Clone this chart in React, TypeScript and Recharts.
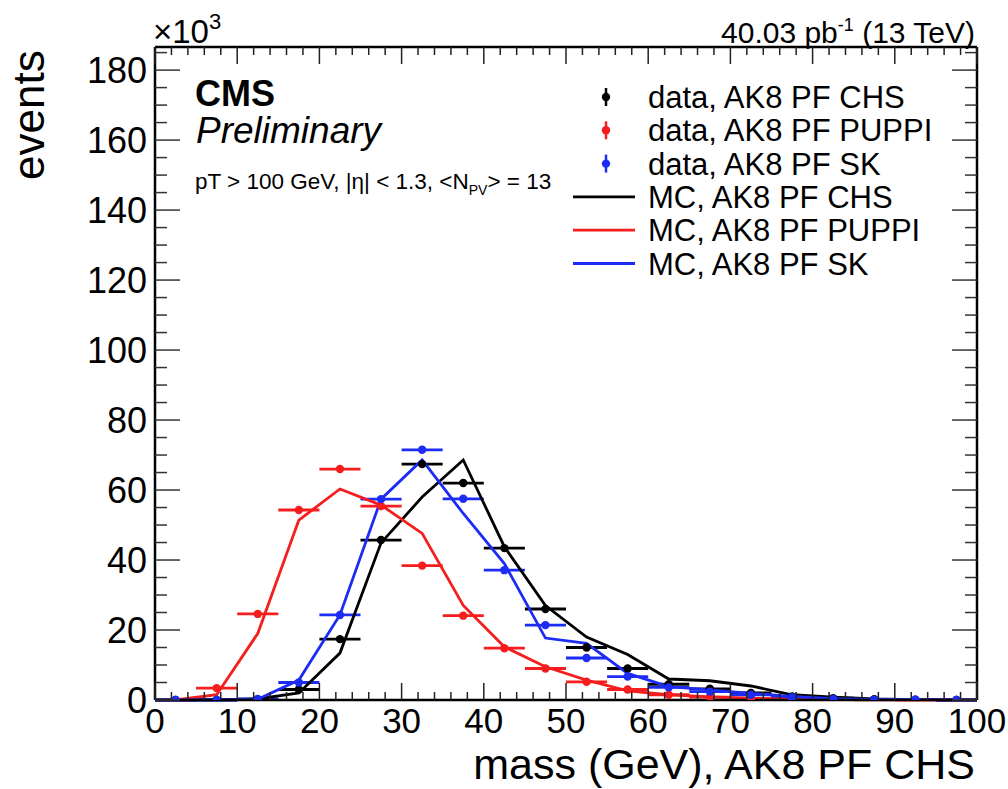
import React from "react";
import { ComposedChart, Line, Scatter, ErrorBar, XAxis, YAxis } from "recharts";

// bin centres (GeV), 5 GeV bins
const binCenters = [2.5, 7.5, 12.5, 17.5, 22.5, 27.5, 32.5, 37.5, 42.5, 47.5, 52.5, 57.5, 62.5, 67.5, 72.5, 77.5, 82.5, 87.5, 92.5, 97.5];

// events x10^3
const dataChs = [0, 0, 0.2, 3, 17.4, 45.7, 67.4, 62, 43.4, 26, 15, 9, 4.5, 3.2, 2, 1, 0.5, 0.2, 0.1, 0];
const dataPuppi = [0, 3.4, 24.6, 54.3, 66, 55.4, 38.4, 24.1, 14.8, 9, 5.2, 3, 1.5, 0.8, 0.4, 0.2, 0.1, 0.05, 0, 0];
const dataSk = [0, 0, 0.3, 5, 24.3, 57.4, 71.5, 57.5, 37.1, 21.4, 12, 6.7, 3.6, 2.4, 1.5, 0.8, 0.3, 0.1, 0.1, 0];
const mcChs = [0, 0, 0.3, 2, 13.4, 44.9, 58, 68.6, 43.8, 27, 18, 13, 6, 5.5, 4, 1.5, 0.8, 0.3, 0.1, 0];
const mcPuppi = [0, 1.5, 19, 51.4, 60.3, 55.7, 47.6, 27, 15.2, 9.5, 5.7, 2.6, 1.5, 0.9, 0.5, 0.2, 0.1, 0, 0, 0];
const mcSk = [0, 0, 0.2, 5.7, 24.3, 57.4, 68.6, 53.3, 39, 17.7, 16.2, 7.6, 3.8, 2.9, 1.9, 1, 0.4, 0.2, 0.1, 0];

const xMajor = [0, 10, 20, 30, 40, 50, 60, 70, 80, 90, 100];
const yMajor = [0, 20, 40, 60, 80, 100, 120, 140, 160, 180];
const xTicks = Array.from({ length: 51 }, (_, i) => i * 2);
const yTicks = Array.from({ length: 38 }, (_, i) => i * 5);

const BLACK = "#000000";
const RED = "#f51d1d";
const BLUE = "#1d2cf5";
const FONT = "'Liberation Sans', Arial, Helvetica, sans-serif";

const legendItems = [
  { label: "data, AK8 PF CHS", color: BLACK, kind: "data" },
  { label: "data, AK8 PF PUPPI", color: RED, kind: "data" },
  { label: "data, AK8 PF SK", color: BLUE, kind: "data" },
  { label: "MC, AK8 PF CHS", color: BLACK, kind: "mc" },
  { label: "MC, AK8 PF PUPPI", color: RED, kind: "mc" },
  { label: "MC, AK8 PF SK", color: BLUE, kind: "mc" },
];

const toPoints = (vals: number[]) => binCenters.map((m, i) => ({ m, v: vals[i], ex: 2.5 }));

const dot = (color: string) => (props: any) => <circle cx={props.cx} cy={props.cy} r={4.2} fill={color} />;

const BottomTick = (props: any) => {
  const { x, y, payload } = props;
  const major = xMajor.includes(payload.value);
  return (
    <g>
      <line x1={x} x2={x} y1={y} y2={y - (major ? 17 : 8)} stroke="#222" strokeWidth={1.5} />
      {major && (
        <text x={x} y={y + 33} textAnchor="middle" fontSize={35} fontFamily={FONT} fill="#000">
          {payload.value}
        </text>
      )}
    </g>
  );
};

const TopTick = (props: any) => {
  const { x, y, payload } = props;
  const major = xMajor.includes(payload.value);
  return <line x1={x} x2={x} y1={y} y2={y + (major ? 17 : 8)} stroke="#222" strokeWidth={1.5} />;
};

const LeftTick = (props: any) => {
  const { x, y, payload } = props;
  const major = yMajor.includes(payload.value);
  return (
    <g>
      <line x1={x} x2={x + (major ? 25 : 12)} y1={y} y2={y} stroke="#333" strokeWidth={1.5} />
      {major && (
        <text x={x - 8} y={y + 13} textAnchor="end" fontSize={36} fontFamily={FONT} fill="#000">
          {payload.value}
        </text>
      )}
    </g>
  );
};

const RightTick = (props: any) => {
  const { x, y, payload } = props;
  const major = yMajor.includes(payload.value);
  return <line x1={x} x2={x - (major ? 25 : 12)} y1={y} y2={y} stroke="#333" strokeWidth={1.5} />;
};

export default function App() {
  return (
    <div style={{ position: "absolute", left: 0, top: 0, width: 1008, height: 789, background: "#fff" }}>
      <ComposedChart width={1008} height={789} margin={{ top: 46, right: 30, bottom: 49, left: 95 }}>
        <XAxis
          xAxisId="b"
          type="number"
          dataKey="m"
          domain={[0, 100]}
          ticks={xTicks}
          interval={0}
          height={40}
          tickSize={0}
          tickMargin={0}
          tickLine={false}
          tick={<BottomTick />}
          axisLine={{ stroke: BLACK, strokeWidth: 2.5 }}
          allowDataOverflow
        />
        <XAxis
          xAxisId="t"
          orientation="top"
          type="number"
          dataKey="m"
          domain={[0, 100]}
          ticks={xTicks}
          interval={0}
          height={1}
          tickSize={0}
          tickMargin={0}
          tickLine={false}
          tick={<TopTick />}
          axisLine={{ stroke: BLACK, strokeWidth: 2.5 }}
          allowDataOverflow
        />
        <YAxis
          yAxisId="l"
          type="number"
          domain={[0, 186.6]}
          ticks={yTicks}
          interval={0}
          width={60}
          tickSize={0}
          tickMargin={0}
          tickLine={false}
          tick={<LeftTick />}
          axisLine={{ stroke: BLACK, strokeWidth: 2.5 }}
          allowDataOverflow
        />
        <YAxis
          yAxisId="r"
          orientation="right"
          type="number"
          domain={[0, 186.6]}
          ticks={yTicks}
          interval={0}
          width={1}
          tickSize={0}
          tickMargin={0}
          tickLine={false}
          tick={<RightTick />}
          axisLine={{ stroke: BLACK, strokeWidth: 2.5 }}
          allowDataOverflow
        />

        <Scatter xAxisId="b" yAxisId="l" data={toPoints(dataPuppi)} dataKey="v" shape={dot(RED)} isAnimationActive={false}>
          <ErrorBar dataKey="ex" direction="x" width={0} stroke={RED} strokeWidth={2.8} isAnimationActive={false} />
        </Scatter>
        <Scatter xAxisId="b" yAxisId="l" data={toPoints(dataChs)} dataKey="v" shape={dot(BLACK)} isAnimationActive={false}>
          <ErrorBar dataKey="ex" direction="x" width={0} stroke={BLACK} strokeWidth={2.8} isAnimationActive={false} />
        </Scatter>
        <Scatter xAxisId="b" yAxisId="l" data={toPoints(dataSk)} dataKey="v" shape={dot(BLUE)} isAnimationActive={false}>
          <ErrorBar dataKey="ex" direction="x" width={0} stroke={BLUE} strokeWidth={2.8} isAnimationActive={false} />
        </Scatter>

        <Line xAxisId="b" yAxisId="l" data={toPoints(mcChs)} dataKey="v" type="linear" stroke={BLACK} strokeWidth={2.8} dot={false} isAnimationActive={false} />
        <Line xAxisId="b" yAxisId="l" data={toPoints(mcPuppi)} dataKey="v" type="linear" stroke={RED} strokeWidth={2.8} dot={false} isAnimationActive={false} />
        <Line xAxisId="b" yAxisId="l" data={toPoints(mcSk)} dataKey="v" type="linear" stroke={BLUE} strokeWidth={2.8} dot={false} isAnimationActive={false} />
      </ComposedChart>

      <svg width={1008} height={789} style={{ position: "absolute", left: 0, top: 0, pointerEvents: "none" }} fontFamily={FONT}>
        <text x={0} y={0} transform="translate(44,180) rotate(-90)" fontSize={44} fill="#000">events</text>
        <text x={975} y={779} textAnchor="end" fontSize={43} fill="#000">mass (GeV), AK8 PF CHS</text>
        <text x={153} y={43} fontSize={33} fill="#000">
          ×10<tspan fontSize={22} dy={-14}>3</tspan>
        </text>
        <text x={975} y={43} textAnchor="end" fontSize={30} fill="#000">
          40.03 pb<tspan fontSize={18} dy={-12}>-1</tspan>
          <tspan dy={12}> (13 TeV)</tspan>
        </text>
        <text x={195} y={106} fontSize={36} fontWeight="bold" fill="#000">CMS</text>
        <text x={196} y={143} fontSize={37} fontStyle="italic" fill="#000">Preliminary</text>
        <text x={195} y={189} fontSize={22.5} fill="#000">
          pT &gt; 100 GeV, |η| &lt; 1.3, &lt;N<tspan fontSize={14} dy={6}>PV</tspan>
          <tspan dy={-6}>&gt; = 13</tspan>
        </text>
        {legendItems.map((it, i) => {
          const cy = 97 + i * 33.3;
          return (
            <g key={it.label}>
              {it.kind === "data" ? (
                <g>
                  <line x1={606} x2={606} y1={cy - 9} y2={cy + 9} stroke={it.color} strokeWidth={2.5} />
                  <circle cx={606} cy={cy} r={4.2} fill={it.color} />
                </g>
              ) : (
                <line x1={573} x2={635} y1={cy} y2={cy} stroke={it.color} strokeWidth={2.8} />
              )}
              <text x={648} y={cy + 11} fontSize={31} fill="#000">{it.label}</text>
            </g>
          );
        })}
      </svg>
    </div>
  );
}
